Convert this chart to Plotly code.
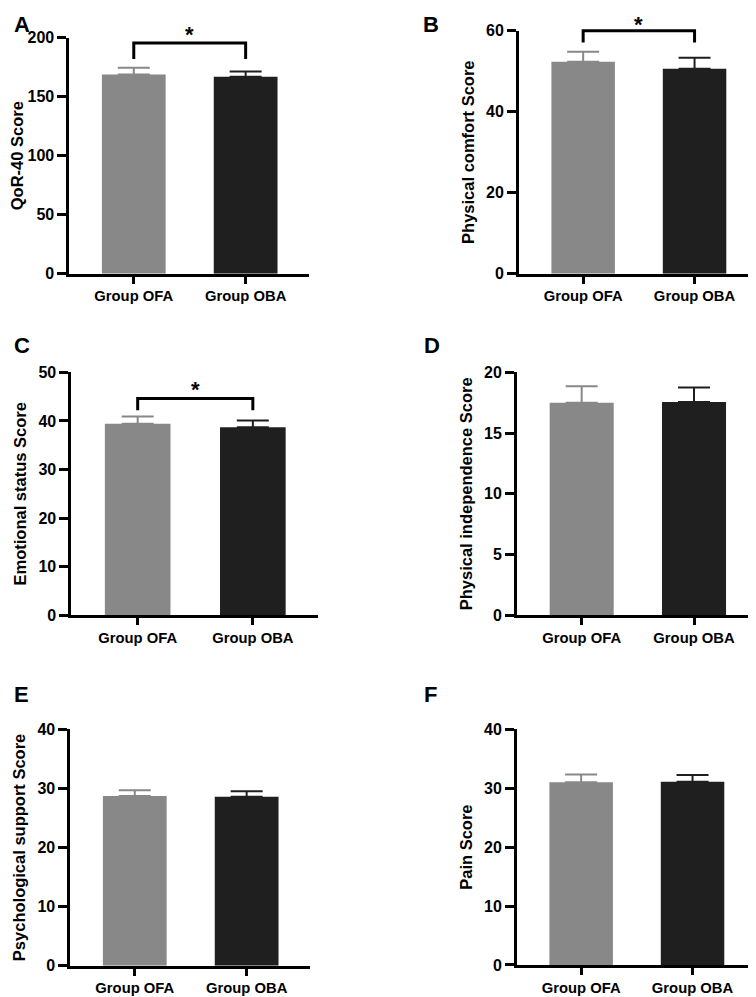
import plotly.graph_objects as go

# groups on every panel
groups = ["Group OFA", "Group OBA"]

# panel letters and y axis titles
letters = ["A", "B", "C", "D", "E", "F"]
y_titles = ["QoR-40 Score", "Physical comfort Score", "Emotional status Score",
            "Physical independence Score", "Psychological support Score", "Pain Score"]

# y axis scales
y_max = [200, 60, 50, 20, 40, 40]
y_step = [50, 20, 10, 5, 10, 10]

# means and (upper) error values
ofa_mean = [168.9, 52.3, 39.4, 17.5, 28.7, 31.0]
oba_mean = [167.0, 50.6, 38.7, 17.55, 28.6, 31.1]
ofa_err = [5.7, 2.5, 1.5, 1.35, 1.0, 1.3]
oba_err = [4.4, 2.7, 1.4, 1.2, 0.9, 1.15]

# significance brackets (top level and leg end), None = no bracket
sig_top = [195.5, 60.0, 44.6, None, None, None]
sig_leg = [182.0, 57.1, 42.2, None, None, None]
sig_mark = ["*", "*", "*", None, None, None]

W, H = 756, 997
# the page shows the figure shifted and slightly shrunk; undo that for placement
OX, OY, S = 10, 16, 0.984
FONT = "Liberation Sans, Arial, sans-serif"
GRAY = "#888888"
DARK = "#1f1f1f"

# plot boxes in screen pixels: left, right, top, bottom
boxes = [(65, 303, 37.7, 274), (511, 748, 30.7, 274),
         (67, 312, 372.7, 616), (509, 748, 372.7, 616),
         (66, 304, 730, 966.7), (509, 746, 730, 966)]
# panel letter centres (screen pixels)
letter_pos = [(10, 14), (424, 14), (10, 345.5), (425, 345.5), (10, 695), (423, 695)]


def fx(x):
    return (x - OX) / S


def fy(y):
    return (y - OY) / S


x_range = [-0.575, 1.57]

fig = go.Figure()
layout = {}
annotations = []

for i in range(6):
    n = i + 1
    sx = "" if n == 1 else str(n)
    left, right, top, bottom = boxes[i]
    xdom = [fx(left) / W, fx(right) / W]
    ydom = [1 - fy(bottom) / H, 1 - fy(top) / H]

    for j, (m, e, c) in enumerate([(ofa_mean[i], ofa_err[i], GRAY),
                                   (oba_mean[i], oba_err[i], DARK)]):
        fig.add_trace(go.Bar(
            x=[groups[j]], y=[m], width=0.57,
            marker=dict(color=c, line=dict(width=0)),
            error_y=dict(type="data", array=[e], arrayminus=[0], symmetric=False,
                         color=c, thickness=2, width=16),
            xaxis="x" + sx, yaxis="y" + sx, showlegend=False, hoverinfo="skip"))

    layout["xaxis" + sx] = dict(
        domain=xdom, anchor="y" + sx, type="category", range=x_range,
        showline=True, linecolor="black", linewidth=3,
        ticks="outside", ticklen=7, tickwidth=3, tickcolor="black",
        tickfont=dict(family=FONT, size=14.8, color="black", weight="bold"),
        showgrid=False, zeroline=False, fixedrange=True)
    layout["yaxis" + sx] = dict(
        domain=ydom, anchor="x" + sx, range=[0, y_max[i]], dtick=y_step[i], tick0=0,
        showline=True, linecolor="black", linewidth=3,
        ticks="outside", ticklen=9, tickwidth=3, tickcolor="black",
        tickfont=dict(family=FONT, size=16, color="black", weight="bold"),
        title=dict(text=y_titles[i], standoff=8,
                   font=dict(family=FONT, size=16.5, color="black", weight="bold")),
        showgrid=False, zeroline=False, fixedrange=True)

    lx, ly = letter_pos[i]
    annotations.append(dict(
        text=letters[i], xref="paper", yref="paper",
        x=max(fx(lx), 8) / W, y=1 - max(fy(ly), 8.5) / H,
        xanchor="center", yanchor="middle", showarrow=False,
        font=dict(family=FONT, size=22, color="black", weight="bold")))

    # significance bracket on a hidden axis pair with the same scale
    if sig_top[i] is not None:
        k = 6 + n
        h = fy(bottom) - fy(top)
        extra = min(30, fy(top))
        layout["xaxis%d" % k] = dict(domain=xdom, anchor="y%d" % k, range=x_range,
                                     visible=False, fixedrange=True)
        layout["yaxis%d" % k] = dict(domain=[ydom[0], 1 - (fy(top) - extra) / H],
                                     anchor="x%d" % k,
                                     range=[0, y_max[i] * (h + extra) / h],
                                     visible=False, fixedrange=True)
        fig.add_trace(go.Scatter(
            x=[0, 0, 1, 1], y=[sig_leg[i], sig_top[i], sig_top[i], sig_leg[i]],
            mode="lines", line=dict(color="black", width=3),
            xaxis="x%d" % k, yaxis="y%d" % k, showlegend=False, hoverinfo="skip"))
        # star glyph about 13px above the bracket, kept inside the page
        bracket_px = fy(top) + h * (1 - sig_top[i] / y_max[i])
        star_px = max(bracket_px - 13 / S, 4)
        annotations.append(dict(
            text=sig_mark[i], xref="x%d" % k, yref="y%d" % k,
            x=0.5, y=sig_top[i], xanchor="center", yanchor="middle",
            yshift=bracket_px - star_px - 4.4, showarrow=False,
            font=dict(family=FONT, size=22, color="black", weight="bold")))

fig.update_layout(**layout)
fig.update_layout(
    width=W, height=H, margin=dict(l=0, r=0, t=0, b=0),
    paper_bgcolor="white", plot_bgcolor="rgba(0,0,0,0)",
    barmode="overlay", showlegend=False,
    annotations=annotations)

fig.write_html("out.html")
